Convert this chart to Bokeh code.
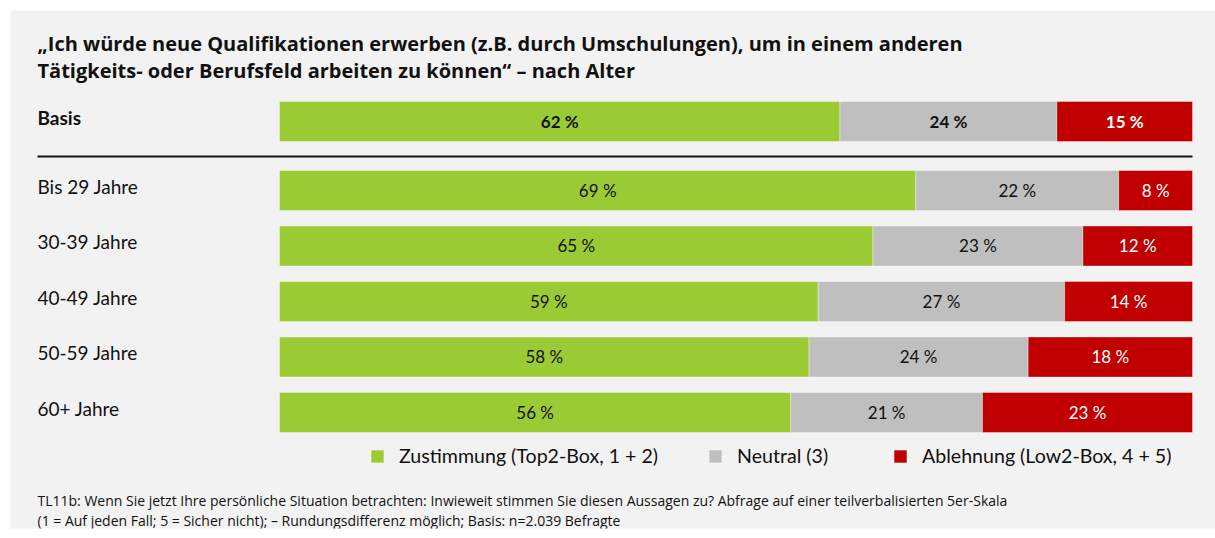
from bokeh.plotting import figure
from bokeh.models import Range1d, Label, Legend, LegendItem, ColumnDataSource
from bokeh.core.properties import value
from bokeh.embed import file_html
from bokeh.resources import INLINE

# ---------------- data ----------------
groups = ["Basis", "Bis 29 Jahre", "30-39 Jahre", "40-49 Jahre", "50-59 Jahre", "60+ Jahre"]
zustimmung = [62, 69, 65, 59, 58, 56]
neutral = [24, 22, 23, 27, 24, 21]
ablehnung = [15, 8, 12, 14, 18, 23]
series_names = ["Zustimmung (Top2-Box, 1 + 2)", "Neutral (3)", "Ablehnung (Low2-Box, 4 + 5)"]
series_colors = ["#9bcb34", "#bfbfbf", "#c00000"]
label_colors = ["#111111", "#111111", "#ffffff"]
title_lines = [
    "\u201eIch würde neue Qualifikationen erwerben (z.B. durch Umschulungen), um in einem anderen",
    "Tätigkeits- oder Berufsfeld arbeiten zu können\u201c \u2013 nach Alter",
]
footnote_lines = [
    "TL11b: Wenn Sie jetzt Ihre persönliche Situation betrachten: Inwieweit stimmen Sie diesen Aussagen zu? Abfrage auf einer teilverbalisierten 5er-Skala",
    "(1 = Auf jeden Fall; 5 = Sicher nicht); \u2013 Rundungsdifferenz möglich; Basis: n=2.039 Befragte",
]

FONT = "Lato"
TFONT = "Open Sans"
TXT = "#111111"

# ---------------- layout helpers (pixel -> data) ----------------
PX_PER_PCT = 9.13
PX_PER_ROW = 55.5
X0_PX, Y0_PX = 279.0, 121.0


def X(px):
    return (px - X0_PX) / PX_PER_PCT


def Y(py):
    return (py - Y0_PX) / PX_PER_ROW


# row positions: Basis on top, then a gap, then the age groups
pos = [0.0] + [i + 0.243 for i in range(1, len(groups))]

# normalised stacked segments
series = [zustimmung, neutral, ablehnung]
totals = [sum(v) for v in zip(*series)]
lefts, rights = [], []
acc = [0.0] * len(groups)
for s in series:
    l = list(acc)
    r = [a + v / t * 100.0 for a, v, t in zip(acc, s, totals)]
    lefts.append(l)
    rights.append(r)
    acc = r

p = figure(
    width=1215, height=538,
    x_range=Range1d(X(10), X(1215)),
    y_range=Range1d(Y(528), Y(10)),
    output_backend="svg", toolbar_location=None,
    x_axis_location=None, y_axis_location=None,
    min_border_left=10, min_border_top=10, min_border_right=0, min_border_bottom=10,
)
p.background_fill_color = "#f2f2f2"
p.border_fill_color = "#ffffff"
p.outline_line_color = None
p.xgrid.visible = False
p.ygrid.visible = False

renderers = []
for i, name in enumerate(series_names):
    src = ColumnDataSource(dict(y=pos, left=lefts[i], right=rights[i]))
    r = p.hbar(y="y", left="left", right="right", height=40 / PX_PER_ROW, source=src,
               fill_color=series_colors[i], line_color="#ffffff", line_alpha=0.35, line_width=1)
    renderers.append(r)

    # value labels
    centers = [(a + b) / 2 for a, b in zip(lefts[i], rights[i])]
    vals = [f"{v} %" for v in series[i]]
    p.text(x=centers[:1], y=pos[:1], text=vals[:1], text_align="center", text_baseline="middle",
           text_font=value(FONT), text_font_size="17px", text_font_style="bold",
           text_color=label_colors[i])
    p.text(x=centers[1:], y=pos[1:], text=vals[1:], text_align="center", text_baseline="middle",
           text_font=value(FONT), text_font_size="17px", text_font_style="normal",
           text_color=label_colors[i])

# row labels
p.text(x=X(37), y=pos[:1], text=groups[:1], text_baseline="middle", y_offset=-4,
       text_font=value(FONT), text_font_size="19px", text_font_style="bold", text_color=TXT)
p.text(x=X(37), y=pos[1:], text=groups[1:], text_baseline="middle", y_offset=-4,
       text_font=value(FONT), text_font_size="19px", text_font_style="normal", text_color=TXT)

# separator line under Basis
p.segment(x0=X(37), x1=100, y0=Y(156), y1=Y(156), line_color="#111111", line_width=2)

# title
for line, mid in zip(title_lines, [43, 70]):
    p.add_layout(Label(x=X(37), y=Y(mid), text=line, text_baseline="middle",
                       text_font=TFONT, text_font_size="20px", text_font_style="bold",
                       text_color=TXT))

# footnote
for line, mid in zip(footnote_lines, [500, 520]):
    p.add_layout(Label(x=X(37), y=Y(mid), text=line, text_baseline="middle",
                       text_font=TFONT, text_font_size="14px", text_color=TXT))

# legends (one per item for exact placement)
legend_x = [359, 697, 882]
for r, name, lx in zip(renderers, series_names, legend_x):
    lg = Legend(items=[LegendItem(label=name, renderers=[r])], location=(lx, 61),
                orientation="horizontal", padding=0, margin=0, spacing=0,
                glyph_width=16, glyph_height=16, label_standoff=14,
                label_text_font=FONT, label_text_font_size="19.6px", label_text_color=TXT,
                label_height=16, border_line_alpha=0, background_fill_alpha=0)
    p.add_layout(lg)

open("out.html", "w").write(file_html(p, INLINE))
